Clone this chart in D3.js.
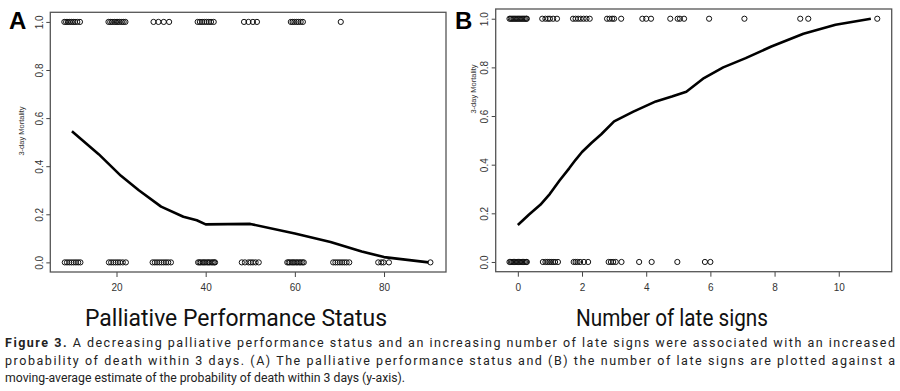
<!DOCTYPE html>
<html>
<head>
<meta charset="utf-8">
<script src="https://cdn.jsdelivr.net/npm/d3@7"></script>
<style>
  body { margin: 0; background: #fff; }
  svg { display: block; }
  .tick text { font-family: "Liberation Sans", Arial, sans-serif; font-size: 10px; fill: #333; }
  .tick line { stroke: #444; }
</style>
</head>
<body>
<div id="chart"></div>
<script>
/* DATA */
// panel A: palliative performance status, jittered points at 1 (died) and 0 (survived)
const ppsDied = [
  8.3, 8.7, 9.1, 9.5, 9.9, 10.3, 10.7, 11.2, 11.8,
  18.2, 18.6, 19.0, 19.5, 19.9, 20.3, 20.7, 21.2, 21.6, 22.0,
  28.3, 29.4, 30.6, 31.8,
  38.2, 38.7, 39.2, 39.7, 40.2, 40.7, 41.2, 41.8,
  48.6, 49.6, 50.6, 51.5,
  59.1, 59.5, 59.9, 60.4, 60.8, 61.3, 61.8,
  70.3
];
const ppsSurvived = [
  8.4, 8.9, 9.4, 9.9, 10.4, 10.9, 11.4, 11.9,
  18.3, 18.8, 19.3, 19.8, 20.3, 20.8, 21.4, 22.1,
  28.1, 28.6, 29.1, 29.6, 30.1, 30.6, 31.1, 31.6, 32.2,
  38.3, 38.6, 38.9, 39.3, 39.6, 39.9, 40.3, 40.6, 40.9, 41.3, 41.6, 41.9, 42.1,
  48.1, 48.8, 49.6, 50.1, 50.6, 51.2, 51.9,
  58.3, 58.6, 58.9, 59.3, 59.6, 59.9, 60.3, 60.6, 61.0, 61.3, 61.7, 62.0,
  68.6, 69.1, 69.6, 70.1, 70.6, 71.1, 71.6, 72.2,
  78.7, 79.4, 79.9, 81.1,
  90.4
];
const ppsCurveX = [10, 16, 21, 25, 30, 35, 38, 40, 50, 60, 68, 75, 80, 90];
const ppsCurveY = [0.545, 0.45, 0.36, 0.30, 0.232, 0.19, 0.175, 0.158, 0.16, 0.12, 0.085, 0.045, 0.022, 0.0];

// panel B: number of late signs
const signsDied = [
  -0.26, -0.22, -0.18, -0.14, -0.1, -0.06, -0.02, 0.02, 0.06, 0.1, 0.14, 0.18, 0.22, 0.26, 0.28,
  0.76, 0.86, 0.94, 1.0, 1.1, 1.22,
  1.72, 1.8, 1.88, 1.96, 2.05, 2.14, 2.24,
  2.78, 2.86, 2.94, 3.0, 3.22,
  3.88, 4.0, 4.15,
  4.75, 4.98, 5.05, 5.18,
  5.96, 7.06, 8.8, 9.05, 11.2
];
const signsSurvived = [
  -0.26, -0.22, -0.18, -0.14, -0.1, -0.06, -0.02, 0.02, 0.06, 0.1, 0.14, 0.18, 0.22, 0.26, 0.28,
  0.78, 0.86, 0.92, 0.98, 1.04, 1.1, 1.16, 1.25,
  1.74, 1.8, 1.86, 1.94, 2.06, 2.19,
  2.83, 2.9, 2.97, 3.05, 3.23,
  3.78, 4.17, 4.97, 5.83, 6.0
];
const signsCurveX = [0, 0.35, 0.7, 1.0, 1.3, 1.6, 1.8, 2.0, 2.3, 2.6, 3.0, 3.6, 4.3, 4.8, 5.25, 5.8, 6.4, 7.1, 7.9, 8.9, 9.9, 11.0];
const signsCurveY = [0.152, 0.195, 0.235, 0.28, 0.335, 0.385, 0.42, 0.452, 0.49, 0.525, 0.578, 0.618, 0.66, 0.68, 0.70, 0.756, 0.8, 0.838, 0.886, 0.938, 0.975, 1.0];

const ppsTicks = [20, 40, 60, 80];
const signsTicks = [0, 2, 4, 6, 8, 10];
const mortalityTicks = [0, 0.2, 0.4, 0.6, 0.8, 1.0];

const captionLines = [
  "A decreasing palliative performance status and an increasing number of late signs were associated with an increased",
  "probability of death within 3 days. (A) The palliative performance status and (B) the number of late signs are plotted against a",
  "moving-average estimate of the probability of death within 3 days (y-axis)."
];

/* LAYOUT */
const width = 900, height = 391;

const svg = d3.select("#chart").append("svg")
  .attr("width", width)
  .attr("height", height);

function panel(opts) {
  const x = d3.scaleLinear().domain(opts.xDomain).range([opts.left, opts.right]);
  const y = d3.scaleLinear().domain([-0.04, 1.04]).range([opts.bottom, opts.top]);

  const g = svg.append("g");

  // x axis
  g.append("g")
    .attr("transform", `translate(0,${opts.bottom})`)
    .call(d3.axisBottom(x).tickValues(opts.xTicks).tickSize(5).tickPadding(7).tickFormat(d3.format("d")))
    .call(a => a.select(".domain").remove());

  // y axis, labels rotated like R's default
  g.append("g")
    .attr("transform", `translate(${opts.left},0)`)
    .call(d3.axisLeft(y).tickValues(mortalityTicks).tickSize(4).tickFormat(d3.format(".1f")))
    .call(a => a.select(".domain").remove())
    .call(a => a.selectAll(".tick text")
      .attr("transform", "rotate(-90)")
      .attr("x", 0)
      .attr("y", -7.5)
      .attr("dy", 0)
      .attr("text-anchor", "middle"));

  // box
  g.append("rect")
    .attr("x", opts.left)
    .attr("y", opts.top)
    .attr("width", opts.right - opts.left)
    .attr("height", opts.bottom - opts.top)
    .attr("fill", "none")
    .attr("stroke", "#555")
    .attr("stroke-width", 1.3);

  // points
  const pts = opts.died.map(v => [v, 1]).concat(opts.survived.map(v => [v, 0]));
  g.append("g").selectAll("circle")
    .data(pts)
    .join("circle")
    .attr("cx", d => x(d[0]))
    .attr("cy", d => y(d[1]))
    .attr("r", 2.6)
    .attr("fill", "none")
    .attr("stroke", "#111")
    .attr("stroke-width", 1);

  // moving-average curve
  const line = d3.line().x(d => x(d[0])).y(d => y(d[1]));
  g.append("path")
    .datum(opts.curveX.map((v, i) => [v, opts.curveY[i]]))
    .attr("d", line)
    .attr("fill", "none")
    .attr("stroke", "#000")
    .attr("stroke-width", 2.6)
    .attr("stroke-linejoin", "round");

  // y title
  g.append("text")
    .attr("transform", `translate(${opts.ylabX},${opts.ylabY}) rotate(-90)`)
    .attr("text-anchor", "middle")
    .attr("dy", "0.35em")
    .style("font-family", "Liberation Sans, Arial, sans-serif")
    .style("font-size", "7.5px")
    .attr("fill", "#333")
    .text("3-day Mortality");

  // panel letter
  g.append("text")
    .attr("x", opts.letterX)
    .attr("y", 29)
    .style("font-family", "Liberation Sans, Arial, sans-serif")
    .style("font-size", "24px")
    .style("font-weight", "bold")
    .text(opts.letter);

  // x title
  g.append("text")
    .attr("x", opts.titleX)
    .attr("y", 326)
    .attr("text-anchor", "middle")
    .attr("textLength", opts.titleLen)
    .attr("lengthAdjust", "spacingAndGlyphs")
    .style("font-family", "Liberation Sans Narrow, Roboto, sans-serif")
    .style("font-size", "23px")
    .attr("fill", "#111")
    .text(opts.title);
}

panel({
  letter: "A", letterX: 9,
  left: 50.3, right: 446, top: 12.3, bottom: 272,
  xDomain: [5.15, 93.9], xTicks: ppsTicks,
  died: ppsDied, survived: ppsSurvived,
  curveX: ppsCurveX, curveY: ppsCurveY,
  ylabX: 21.5, ylabY: 131,
  title: "Palliative Performance Status", titleX: 236, titleLen: 302
});

panel({
  letter: "B", letterX: 455,
  left: 495.7, right: 891.7, top: 9, bottom: 271.7,
  xDomain: [-0.69, 11.65], xTicks: signsTicks,
  died: signsDied, survived: signsSurvived,
  curveX: signsCurveX, curveY: signsCurveY,
  ylabX: 473.5, ylabY: 89,
  title: "Number of late signs", titleX: 672, titleLen: 192
});

/* CAPTION */
const cap = svg.append("g")
  .style("font-family", "Roboto, sans-serif")
  .style("font-size", "12.5px")
  .attr("fill", "#222");

const first = cap.append("text")
  .attr("x", 5).attr("y", 347)
  .attr("textLength", 890).attr("lengthAdjust", "spacing");
first.append("tspan").style("font-weight", "bold").text("Figure 3. ");
first.append("tspan").text(captionLines[0]);

cap.append("text")
  .attr("x", 5).attr("y", 365)
  .attr("textLength", 890).attr("lengthAdjust", "spacing")
  .text(captionLines[1]);

cap.append("text")
  .attr("x", 5).attr("y", 382)
  .attr("textLength", 400).attr("lengthAdjust", "spacingAndGlyphs")
  .text(captionLines[2]);
</script>
</body>
</html>
